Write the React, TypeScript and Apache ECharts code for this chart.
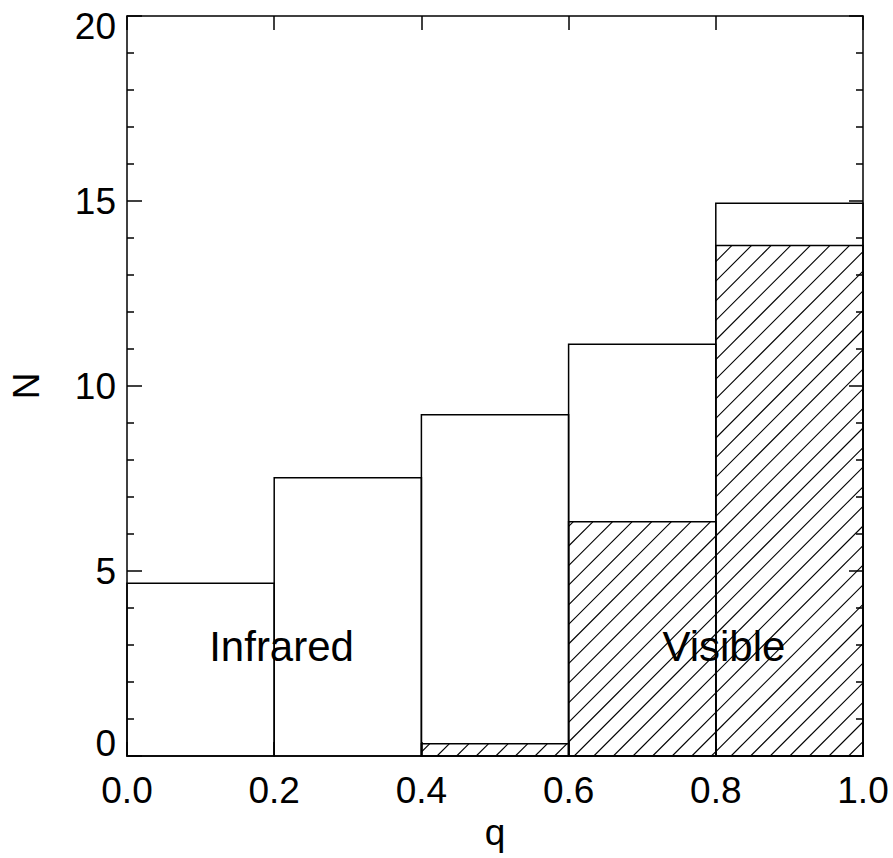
import React, { useEffect, useRef } from "react";
import * as echarts from "echarts";

const binStarts = [0.0, 0.2, 0.4, 0.6, 0.8];
const binEnds = [0.2, 0.4, 0.6, 0.8, 1.0];
const totalCounts = [4.67, 7.52, 9.22, 11.13, 14.94];
const visibleCounts = [0, 0, 0.33, 6.33, 13.8];
const annotationNames = ["Infrared", "Visible"];
const annotationQ = [0.21, 0.811];
const annotationN = [2.97, 2.97];

const FONT = "'Liberation Sans', Arial, Helvetica, sans-serif";
const HATCH_SPACING = 19.6;
const HATCH_OFFSET = 17;

export default function App() {
  const ref = useRef<HTMLDivElement>(null);
  useEffect(() => {
    if (!ref.current) return;
    const chart = echarts.init(ref.current, undefined, { renderer: "svg" });

    const totalData = binStarts.map((s, i) => [s, binEnds[i], totalCounts[i]]);
    const visData = binStarts.map((s, i) => [s, binEnds[i], visibleCounts[i]]);
    const annData = annotationQ.map((q, i) => [q, annotationN[i]]);

    const axisLine = { show: true, onZero: false, lineStyle: { color: "#000", width: 1.5 } };
    const majorTick = (len: number) => ({
      show: true,
      inside: true,
      length: len,
      lineStyle: { color: "#000", width: 1.5 },
    });

    chart.setOption({
      animation: false,
      backgroundColor: "#fff",
      grid: { left: 124, top: 16, width: 739, height: 740, containLabel: false },
      xAxis: [
        {
          type: "value",
          min: 0,
          max: 1,
          interval: 0.2,
          position: "bottom",
          axisLine,
          axisTick: majorTick(14),
          splitLine: { show: false },
          axisLabel: {
            show: true,
            color: "#000",
            fontFamily: FONT,
            fontSize: 37,
            margin: 16,
            formatter: (v: number) => v.toFixed(1),
          },
          name: "q",
          nameLocation: "middle",
          nameGap: 56,
          nameTextStyle: { color: "#000", fontFamily: FONT, fontSize: 37 },
        },
        {
          type: "value",
          min: 0,
          max: 1,
          interval: 0.2,
          position: "top",
          axisLine,
          axisTick: majorTick(14),
          splitLine: { show: false },
          axisLabel: { show: false },
        },
      ],
      yAxis: [
        {
          type: "value",
          min: 0,
          max: 20,
          interval: 5,
          position: "left",
          axisLine,
          axisTick: majorTick(15),
          minorTick: { show: true, splitNumber: 5, length: 7, lineStyle: { color: "#000", width: 1.5 } },
          splitLine: { show: false },
          minorSplitLine: { show: false },
          axisLabel: {
            show: true,
            color: "#000",
            fontFamily: FONT,
            fontSize: 37,
            margin: 11,
            formatter: (v: number) => {
              if (v === 0) return "{lo|0}";
              if (v === 20) return "{hi|20}";
              return String(v);
            },
            rich: {
              lo: { fontFamily: FONT, fontSize: 37, color: "#000", padding: [0, 0, 25, 0] },
              hi: { fontFamily: FONT, fontSize: 37, color: "#000", padding: [20, 0, 0, 0] },
            },
          },
          name: "N",
          nameLocation: "middle",
          nameRotate: 90,
          nameGap: 82,
          nameTextStyle: { color: "#000", fontFamily: FONT, fontSize: 37 },
        },
        {
          type: "value",
          min: 0,
          max: 20,
          interval: 5,
          position: "right",
          axisLine,
          axisTick: majorTick(14),
          minorTick: { show: true, splitNumber: 5, length: 7, lineStyle: { color: "#000", width: 1.5 } },
          splitLine: { show: false },
          minorSplitLine: { show: false },
          axisLabel: { show: false },
        },
      ],
      series: [
        {
          type: "custom",
          name: "Total",
          xAxisIndex: 0,
          yAxisIndex: 0,
          data: totalData,
          clip: false,
          renderItem: (params: any, api: any) => {
            const x0 = api.value(0);
            const x1 = api.value(1);
            const y = api.value(2);
            const a = api.coord([x0, y]);
            const b = api.coord([x1, 0]);
            return {
              type: "rect",
              shape: { x: a[0], y: a[1], width: b[0] - a[0], height: b[1] - a[1] },
              style: { fill: "none", stroke: "#000", lineWidth: 1.5 },
            };
          },
        },
        {
          type: "custom",
          name: "Visible",
          xAxisIndex: 0,
          yAxisIndex: 0,
          data: visData,
          clip: false,
          renderItem: (params: any, api: any) => {
            const x0 = api.value(0);
            const x1 = api.value(1);
            const y = api.value(2);
            if (!(y > 0)) return null;
            const a = api.coord([x0, y]);
            const b = api.coord([x1, 0]);
            const L = a[0], R = b[0], T = a[1], B = b[1];
            const children: any[] = [];
            const cMin = L + T;
            const cMax = R + B;
            let k = Math.ceil((cMin - HATCH_OFFSET) / HATCH_SPACING);
            for (; ; k++) {
              const c = k * HATCH_SPACING + HATCH_OFFSET;
              if (c > cMax) break;
              const xa = Math.max(L, c - B);
              const xb = Math.min(R, c - T);
              if (xb - xa < 0.5) continue;
              children.push({
                type: "line",
                shape: { x1: xa, y1: c - xa, x2: xb, y2: c - xb },
                style: { stroke: "#000", lineWidth: 1.1 },
              });
            }
            children.push({
              type: "rect",
              shape: { x: L, y: T, width: R - L, height: B - T },
              style: { fill: "none", stroke: "#000", lineWidth: 1.5 },
            });
            return { type: "group", children };
          },
        },
        {
          type: "custom",
          name: "Labels",
          xAxisIndex: 0,
          yAxisIndex: 0,
          data: annData,
          clip: false,
          renderItem: (params: any, api: any) => {
            const p = api.coord([api.value(0), api.value(1)]);
            return {
              type: "text",
              x: p[0],
              y: p[1],
              style: {
                text: annotationNames[params.dataIndex],
                fill: "#000",
                font: `42px ${FONT}`,
                align: "center",
                verticalAlign: "middle",
              },
            };
          },
        },
      ],
    });
    return () => chart.dispose();
  }, []);
  return (
    <div
      ref={ref}
      style={{ position: "fixed", left: 0, top: 0, width: 893, height: 858, background: "#fff" }}
    />
  );
}
